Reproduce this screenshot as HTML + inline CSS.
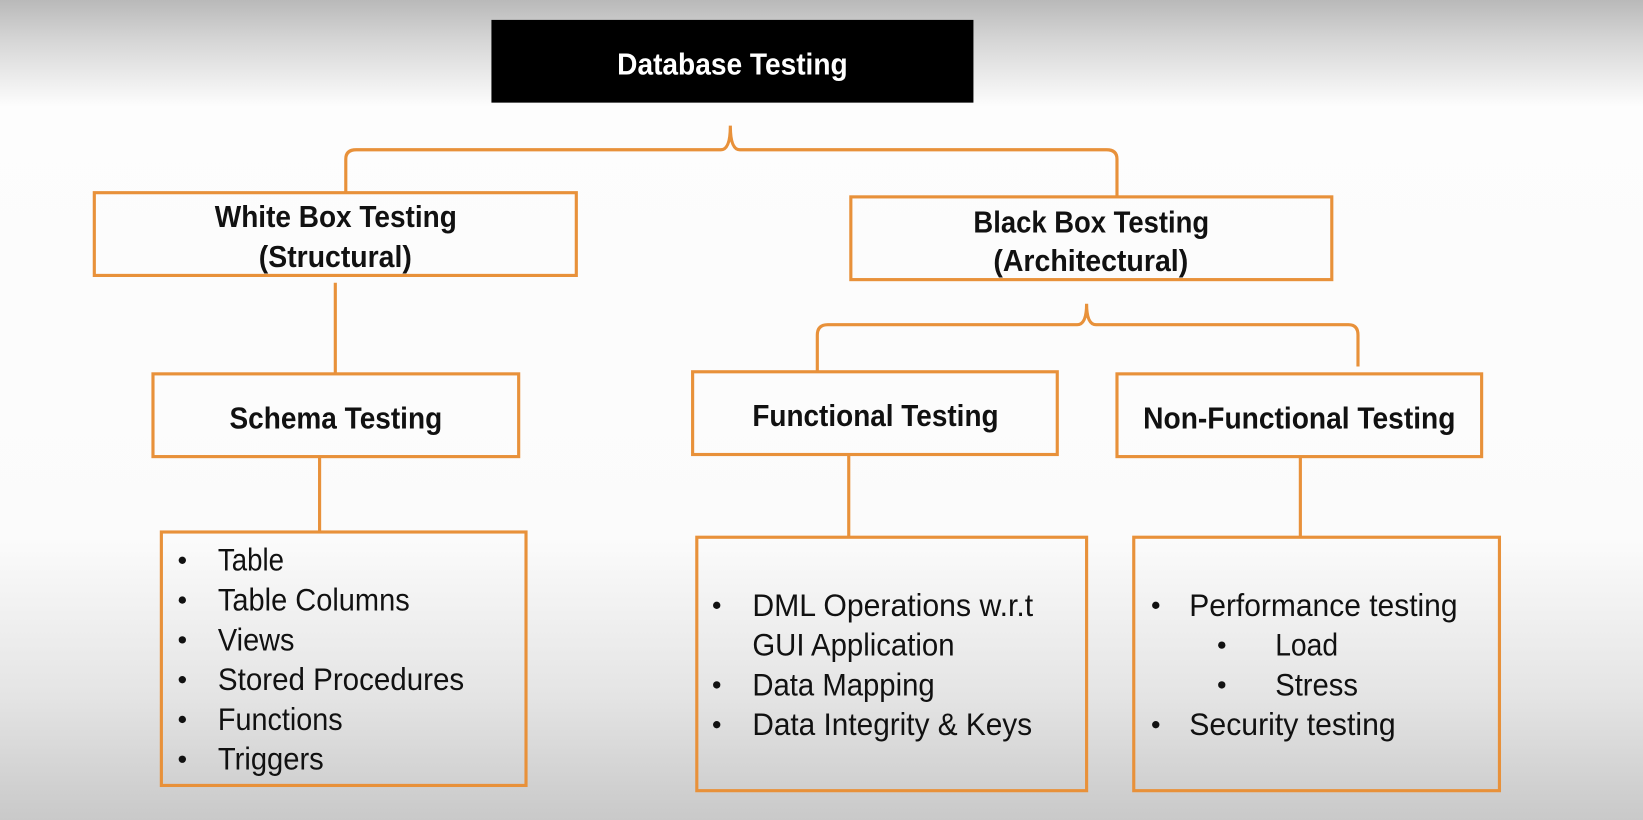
<!DOCTYPE html>
<html><head><meta charset="utf-8"><style>
html,body{margin:0;padding:0;width:1643px;height:820px;overflow:hidden;background:#fff}
svg{display:block}
text{font-family:"Liberation Sans Narrow","Liberation Sans",sans-serif;fill:#111}
.b{font-weight:bold;font-size:29px}
.r{font-size:30px}
</style></head><body>
<svg width="1643" height="820" viewBox="0 0 1568 783" preserveAspectRatio="none" xmlns="http://www.w3.org/2000/svg">
<defs>
<linearGradient id="bg" x1="0" y1="0" x2="0" y2="1">
<stop offset="0" stop-color="#b9b9b9"/>
<stop offset="0.05" stop-color="#d6d6d6"/>
<stop offset="0.13" stop-color="#fdfdfd"/>
<stop offset="0.66" stop-color="#fbfbfb"/>
<stop offset="0.85" stop-color="#e4e4e4"/>
<stop offset="1" stop-color="#c9c9c9"/>
</linearGradient>
</defs>
<rect x="0" y="0" width="1568" height="783" fill="url(#bg)"/>
<g fill="none" stroke="#e8913a" stroke-width="3">
<path d="M330 184 V152 Q330 143 340 143 H688 Q697 143 697 120 Q697 143 706 143 H1056 Q1066 143 1066 152 V188"/>
<path d="M780 355 V320 Q780 310 790 310 H1028 Q1037 310 1037 290 Q1037 310 1046 310 H1287 Q1296 310 1296 320 V350"/>
<path d="M320 270 V356"/>
<path d="M305 436 V508"/>
<path d="M810 434 V513"/>
<path d="M1241 436 V513"/>
<rect x="90" y="184" width="460" height="79"/>
<rect x="812" y="188" width="459" height="79"/>
<rect x="146" y="357" width="349" height="79"/>
<rect x="661" y="355" width="348" height="79"/>
<rect x="1066" y="357" width="348" height="79"/>
<rect x="154" y="508" width="348" height="242"/>
<rect x="665" y="513" width="372" height="242"/>
<rect x="1082" y="513" width="349" height="242"/>
</g>
<rect x="469" y="19" width="460" height="79" fill="#000"/>
<text class="b" x="589" y="71" textLength="220" lengthAdjust="spacingAndGlyphs" style="fill:#fff">Database Testing</text>
<text class="b" x="205" y="217" textLength="231" lengthAdjust="spacingAndGlyphs">White Box Testing</text>
<text class="b" x="247" y="255" textLength="146" lengthAdjust="spacingAndGlyphs">(Structural)</text>
<text class="b" x="929" y="222" textLength="225" lengthAdjust="spacingAndGlyphs">Black Box Testing</text>
<text class="b" x="948" y="259" textLength="186" lengthAdjust="spacingAndGlyphs">(Architectural)</text>
<text class="b" x="219" y="409" textLength="203" lengthAdjust="spacingAndGlyphs">Schema Testing</text>
<text class="b" x="718" y="407" textLength="235" lengthAdjust="spacingAndGlyphs">Functional Testing</text>
<text class="b" x="1091" y="409" textLength="298" lengthAdjust="spacingAndGlyphs">Non-Functional Testing</text>
<g fill="#111">
<circle cx="174" cy="535" r="3.5"/><circle cx="174" cy="573" r="3.5"/><circle cx="174" cy="611" r="3.5"/>
<circle cx="174" cy="649" r="3.5"/><circle cx="174" cy="687" r="3.5"/><circle cx="174" cy="725" r="3.5"/>
<circle cx="684" cy="578" r="3.5"/><circle cx="684" cy="654" r="3.5"/><circle cx="684" cy="692" r="3.5"/>
<circle cx="1103" cy="578" r="3.5"/><circle cx="1166" cy="616" r="3.5"/><circle cx="1166" cy="654" r="3.5"/><circle cx="1103" cy="692" r="3.5"/>
</g>
<text class="r" x="208" y="545" textLength="63" lengthAdjust="spacingAndGlyphs">Table</text>
<text class="r" x="208" y="583" textLength="183" lengthAdjust="spacingAndGlyphs">Table Columns</text>
<text class="r" x="208" y="621" textLength="73" lengthAdjust="spacingAndGlyphs">Views</text>
<text class="r" x="208" y="659" textLength="235" lengthAdjust="spacingAndGlyphs">Stored Procedures</text>
<text class="r" x="208" y="697" textLength="119" lengthAdjust="spacingAndGlyphs">Functions</text>
<text class="r" x="208" y="735" textLength="101" lengthAdjust="spacingAndGlyphs">Triggers</text>
<text class="r" x="718" y="588" textLength="268" lengthAdjust="spacingAndGlyphs">DML Operations w.r.t</text>
<text class="r" x="718" y="626" textLength="193" lengthAdjust="spacingAndGlyphs">GUI Application</text>
<text class="r" x="718" y="664" textLength="174" lengthAdjust="spacingAndGlyphs">Data Mapping</text>
<text class="r" x="718" y="702" textLength="267" lengthAdjust="spacingAndGlyphs">Data Integrity &amp; Keys</text>
<text class="r" x="1135" y="588" textLength="256" lengthAdjust="spacingAndGlyphs">Performance testing</text>
<text class="r" x="1217" y="626" textLength="60" lengthAdjust="spacingAndGlyphs">Load</text>
<text class="r" x="1217" y="664" textLength="79" lengthAdjust="spacingAndGlyphs">Stress</text>
<text class="r" x="1135" y="702" textLength="197" lengthAdjust="spacingAndGlyphs">Security testing</text>
</svg>
</body></html>
